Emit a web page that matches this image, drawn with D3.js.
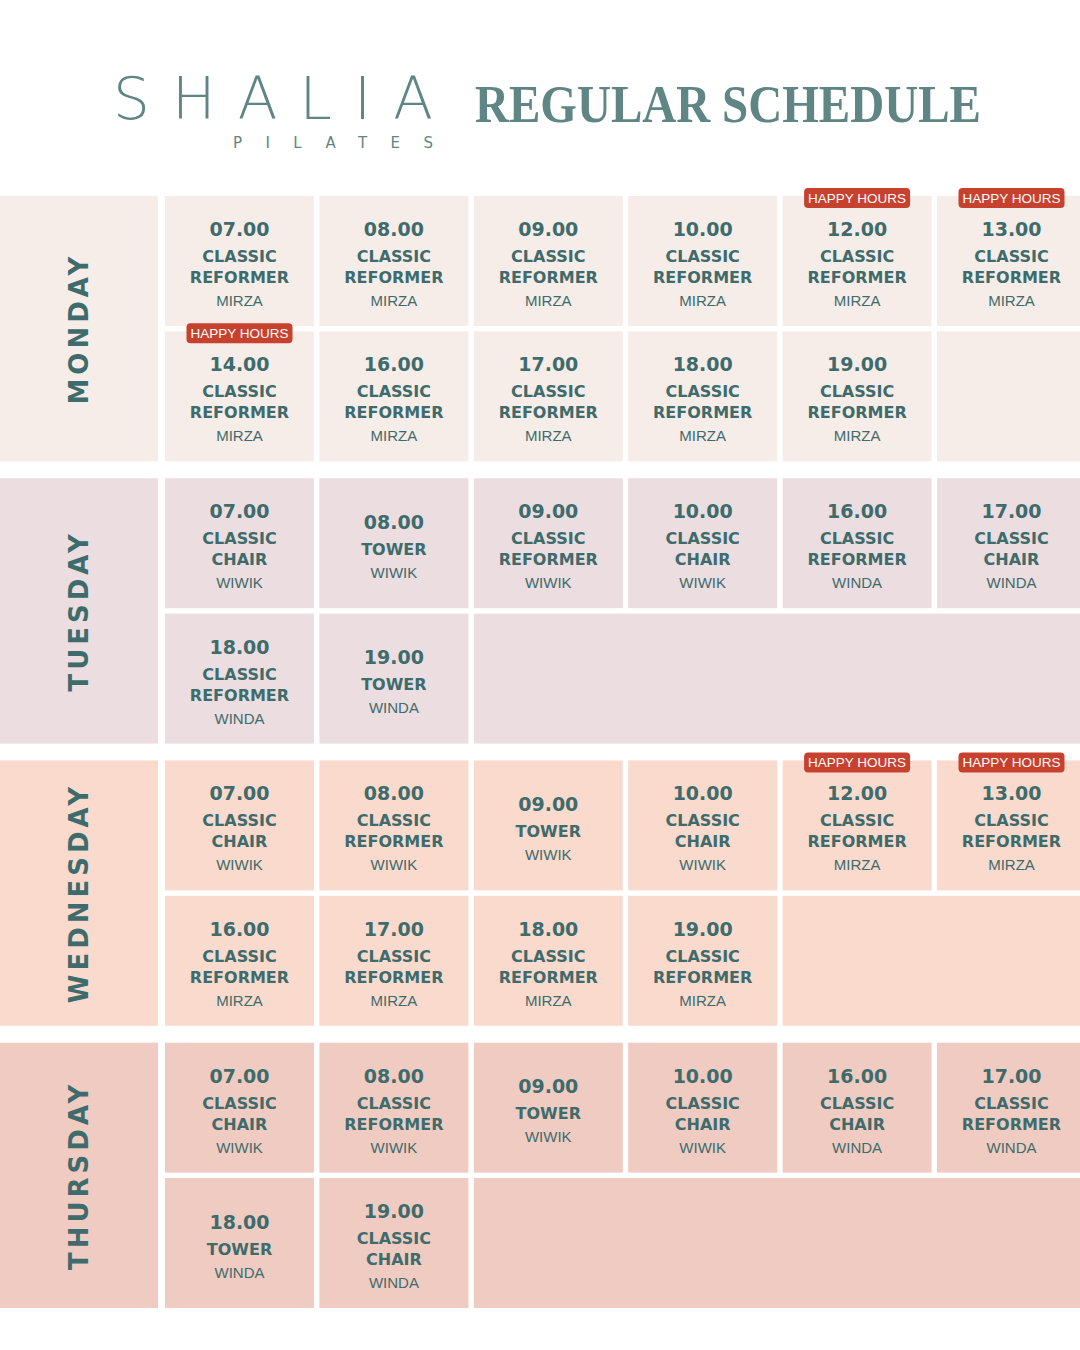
<!DOCTYPE html>
<html><head><meta charset="utf-8">
<script src="https://cdn.jsdelivr.net/npm/d3@7"></script>
<style>body{margin:0;background:#fff}svg{display:block}</style>
</head><body>
<script>
const days = ["MONDAY", "TUESDAY", "WEDNESDAY", "THURSDAY"];
const dayColors = ["#f6ece8", "#ebdde0", "#f9dacd", "#f0cbc2"];
// each class: [day, row, col, time, class name, instructor, happy hours]
const mondayClasses = [
  [0,0,0,"07.00","CLASSIC REFORMER","MIRZA",0],[0,0,1,"08.00","CLASSIC REFORMER","MIRZA",0],
  [0,0,2,"09.00","CLASSIC REFORMER","MIRZA",0],[0,0,3,"10.00","CLASSIC REFORMER","MIRZA",0],
  [0,0,4,"12.00","CLASSIC REFORMER","MIRZA",1],[0,0,5,"13.00","CLASSIC REFORMER","MIRZA",1],
  [0,1,0,"14.00","CLASSIC REFORMER","MIRZA",1],[0,1,1,"16.00","CLASSIC REFORMER","MIRZA",0],
  [0,1,2,"17.00","CLASSIC REFORMER","MIRZA",0],[0,1,3,"18.00","CLASSIC REFORMER","MIRZA",0],
  [0,1,4,"19.00","CLASSIC REFORMER","MIRZA",0]
];
const tuesdayClasses = [
  [1,0,0,"07.00","CLASSIC CHAIR","WIWIK",0],[1,0,1,"08.00","TOWER","WIWIK",0],
  [1,0,2,"09.00","CLASSIC REFORMER","WIWIK",0],[1,0,3,"10.00","CLASSIC CHAIR","WIWIK",0],
  [1,0,4,"16.00","CLASSIC REFORMER","WINDA",0],[1,0,5,"17.00","CLASSIC CHAIR","WINDA",0],
  [1,1,0,"18.00","CLASSIC REFORMER","WINDA",0],[1,1,1,"19.00","TOWER","WINDA",0]
];
const wednesdayClasses = [
  [2,0,0,"07.00","CLASSIC CHAIR","WIWIK",0],[2,0,1,"08.00","CLASSIC REFORMER","WIWIK",0],
  [2,0,2,"09.00","TOWER","WIWIK",0],[2,0,3,"10.00","CLASSIC CHAIR","WIWIK",0],
  [2,0,4,"12.00","CLASSIC REFORMER","MIRZA",1],[2,0,5,"13.00","CLASSIC REFORMER","MIRZA",1],
  [2,1,0,"16.00","CLASSIC REFORMER","MIRZA",0],[2,1,1,"17.00","CLASSIC REFORMER","MIRZA",0],
  [2,1,2,"18.00","CLASSIC REFORMER","MIRZA",0],[2,1,3,"19.00","CLASSIC REFORMER","MIRZA",0]
];
const thursdayClasses = [
  [3,0,0,"07.00","CLASSIC CHAIR","WIWIK",0],[3,0,1,"08.00","CLASSIC REFORMER","WIWIK",0],
  [3,0,2,"09.00","TOWER","WIWIK",0],[3,0,3,"10.00","CLASSIC CHAIR","WIWIK",0],
  [3,0,4,"16.00","CLASSIC CHAIR","WINDA",0],[3,0,5,"17.00","CLASSIC REFORMER","WINDA",0],
  [3,1,0,"18.00","TOWER","WINDA",0],[3,1,1,"19.00","CLASSIC CHAIR","WINDA",0]
];
const classes = [...mondayClasses, ...tuesdayClasses, ...wednesdayClasses, ...thursdayClasses];

const W = 1080, H = 1350, teal = "#3e6b6c", red = "#c7412f";
const svg = d3.select("body").append("svg").attr("width", W).attr("height", H);

// header
svg.append("text").attr("x", 113).attr("y", 119)
  .attr("font-family", "DejaVu Sans").attr("font-weight", 200).attr("font-size", 58)
  .attr("textLength", 320).attr("lengthAdjust", "spacing").attr("fill", "#5f8585").text("SHALIA");
svg.append("text").attr("x", 233).attr("y", 148)
  .attr("font-family", "DejaVu Sans").attr("font-size", 15)
  .attr("textLength", 200).attr("lengthAdjust", "spacing").attr("fill", "#5f8585").text("PILATES");
svg.append("text").attr("x", 728).attr("y", 122).attr("text-anchor", "middle")
  .attr("font-family", "Liberation Serif").attr("font-weight", "bold").attr("font-size", 52)
  .attr("textLength", 506).attr("lengthAdjust", "spacingAndGlyphs")
  .attr("fill", "#5f8585").text("REGULAR SCHEDULE");

const x = d3.scaleBand().domain(d3.range(6)).range([165, 1086]).paddingInner(0.035).paddingOuter(0);
const dayY = d3.scaleBand().domain(d3.range(4)).range([196, 1308]).paddingInner(0.06);
const rowY = day => d3.scaleBand().domain([0, 1]).range([dayY(day), dayY(day) + dayY.bandwidth()]).paddingInner(0.04);

// day labels
const dg = svg.selectAll("g.day").data(days).join("g");
dg.append("rect").attr("x", 0).attr("y", (d, i) => dayY(i)).attr("width", 158)
  .attr("height", dayY.bandwidth()).attr("fill", (d, i) => dayColors[i]);
dg.append("text")
  .attr("transform", (d, i) => `translate(88,${dayY(i) + dayY.bandwidth() / 2}) rotate(-90)`)
  .attr("text-anchor", "middle").attr("font-family", "DejaVu Sans").attr("font-weight", "bold")
  .attr("font-size", 26).attr("letter-spacing", 4).attr("fill", teal).text(d => d);

// filler for empty trailing cells
days.forEach((d, i) => {
  [0, 1].forEach(r => {
    const n = classes.filter(c => c[0] === i && c[1] === r).length;
    if (n < 6) svg.append("rect").attr("x", x(n)).attr("y", rowY(i)(r))
      .attr("width", W - x(n)).attr("height", rowY(i).bandwidth()).attr("fill", dayColors[i]);
  });
});

const cell = svg.selectAll("g.cell").data(classes).join("g")
  .attr("transform", c => `translate(${x(c[2])},${rowY(c[0])(c[1])})`);
cell.append("rect").attr("width", x.bandwidth()).attr("height", rowY(0).bandwidth())
  .attr("fill", c => dayColors[c[0]]);
const cx = x.bandwidth() / 2;
cell.each(function(c) {
  const g = d3.select(this), lines = c[4].split(" ");
  const h = rowY(0).bandwidth();
  const total = 22 + lines.length * 21 + 22;
  let y0 = h / 2 - total / 2 + 18;
  g.append("text").attr("x", cx).attr("y", y0).attr("text-anchor", "middle")
    .attr("font-family", "DejaVu Sans").attr("font-weight", "bold").attr("font-size", 19)
    .attr("fill", teal).text(c[3]);
  lines.forEach((l, k) => g.append("text").attr("x", cx).attr("y", y0 + 26 + k * 21)
    .attr("text-anchor", "middle").attr("font-family", "DejaVu Sans").attr("font-weight", "bold")
    .attr("font-size", 16).attr("fill", teal).text(l));
  g.append("text").attr("x", cx).attr("y", y0 + 26 + lines.length * 21 + 2)
    .attr("text-anchor", "middle").attr("font-family", "Liberation Sans").attr("font-size", 15)
    .attr("fill", teal).text(c[5]);
  if (c[6]) {
    g.append("rect").attr("x", cx - 53).attr("y", -8).attr("width", 106).attr("height", 20)
      .attr("rx", 4).attr("fill", red);
    g.append("text").attr("x", cx).attr("y", 7).attr("text-anchor", "middle")
      .attr("font-family", "Liberation Sans").attr("font-size", 13.5).attr("fill", "#fff").text("HAPPY HOURS");
  }
});
</script>
</body></html>
